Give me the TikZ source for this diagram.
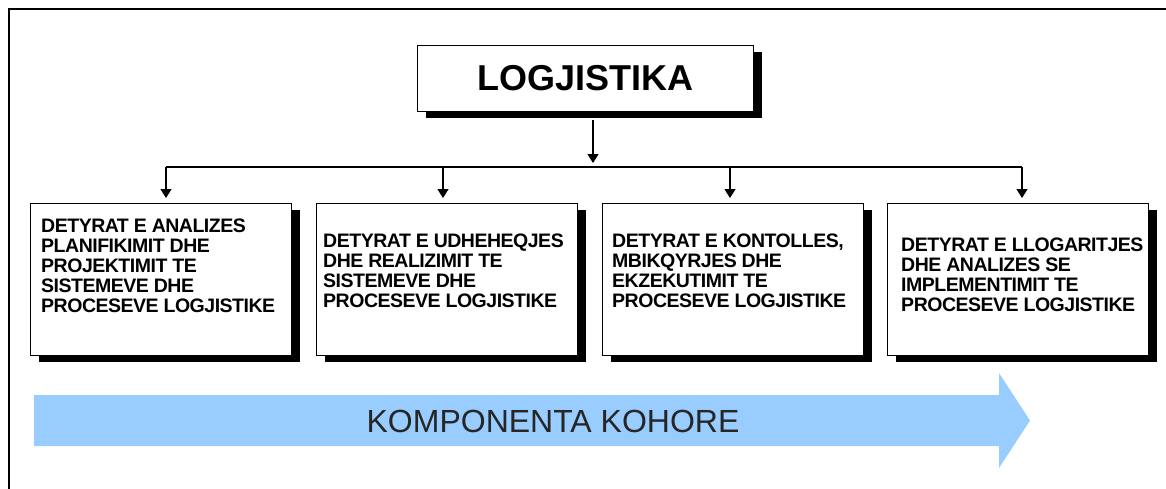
\documentclass[tikz,border=0pt]{standalone}
\usepackage{fontspec}
\setmainfont{Liberation Sans}
\newfontfamily\tasksans[LetterSpace=-2.5]{Liberation Sans}
\usetikzlibrary{arrows.meta,shadows}
\definecolor{timeblue}{HTML}{99CCFF}
\begin{document}
\begin{tikzpicture}[x=1pt,y=-1pt,
  conn/.style={line width=1.2pt, black},
  arr/.style={conn, -{Triangle[length=9pt,width=11pt]}},
  shadowbox/.style={draw=black, line width=1.2pt, fill=white, inner sep=0pt,
    anchor=north west,
    drop shadow={shadow xshift=8pt, shadow yshift=-6pt, opacity=1, fill=black}},
  taskbox/.style={shadowbox, minimum width=261pt, minimum height=152pt},
  tasktext/.style={anchor=north west, inner sep=0pt, align=left,
    font=\tasksans\fontsize{19.5}{19.8}\selectfont\bfseries}
]
\useasboundingbox (0,0) rectangle (1166,488);
% outer frame (only top and left edges fall inside the page)
\draw[line width=2.6pt] (9,500) -- (9,9) -- (1180,9);

% title box
\node[shadowbox, minimum width=336pt, minimum height=66pt,
  font=\fontsize{36}{40}\selectfont\bfseries] (top) at (417,45) {LOGJISTIKA};

% task boxes
\node[taskbox] (b1) at (30,203) {};
\node[taskbox] (b2) at (316,203) {};
\node[taskbox] (b3) at (602,203) {};
\node[taskbox] (b4) at (887,203) {};

\node[tasktext] (l1) at (41,219) {DETYRAT E ANALIZES\\PLANIFIKIMIT DHE\\PROJEKTIMIT TE\\SISTEMEVE DHE\\PROCESEVE LOGJISTIKE};
\node[tasktext] (l2) at (323,234) {DETYRAT E UDHEHEQJES\\DHE REALIZIMIT TE\\SISTEMEVE DHE\\PROCESEVE LOGJISTIKE};
\node[tasktext] (l3) at (612,234) {DETYRAT E KONTOLLES,\\MBIKQYRJES DHE\\EKZEKUTIMIT TE\\PROCESEVE LOGJISTIKE};
\node[tasktext] (l4) at (901,238) {DETYRAT E LLOGARITJES\\DHE ANALIZES SE\\IMPLEMENTIMIT TE\\PROCESEVE LOGJISTIKE};

% distribution bus
\coordinate (hub) at (593,167);
\coordinate (j1) at (166,167);
\coordinate (j2) at (443,167);
\coordinate (j3) at (730,167);
\coordinate (j4) at (1022,167);
\coordinate (drop) at (593,120);

\draw[arr] (drop) -- ([yshift=4pt]hub);
\draw[conn] (j1) -- (j4);
\draw[arr, shorten >=5pt] (j1) -- (j1 |- b1.north);
\draw[arr, shorten >=5pt] (j2) -- (j2 |- b2.north);
\draw[arr, shorten >=5pt] (j3) -- (j3 |- b3.north);
\draw[arr, shorten >=5pt] (j4) -- (j4 |- b4.north);

% time arrow
\fill[timeblue] (34,395) -- (999,395) -- (999,373) -- (1030,420.5)
  -- (999,468) -- (999,446) -- (34,446) -- cycle;
\node[font=\fontsize{32}{36}\selectfont, text=black!85] (time) at (553,421) {KOMPONENTA KOHORE};
\end{tikzpicture}
\end{document}
